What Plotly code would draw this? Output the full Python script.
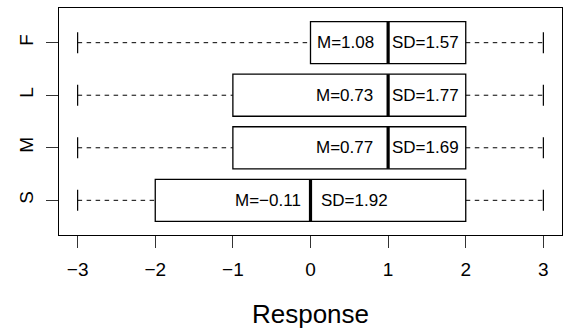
import plotly.graph_objects as go

# ---- data ----
groups = ["S", "M", "L", "F"]
lower = [-3, -3, -3, -3]
q1 = [-2, -1, -1, 0]
medians = [0, 1, 1, 1]
q3 = [2, 2, 2, 2]
upper = [3, 3, 3, 3]
means = [-0.11, 0.77, 0.73, 1.08]
sds = [1.92, 1.69, 1.77, 1.57]
x_ticks = [-3, -2, -1, 0, 1, 2, 3]

# ---- layout parameters ----
FONT = "Liberation Sans, Arial, Helvetica, sans-serif"
BOXHALF = 0.4
CAPHALF = 0.2
m_shift = [-8, -13, -13, -12]
sd_shift = [8, 2, 2, 2]


def fmt(v):
    s = f"{v:.2f}"
    return s.replace("-", "\u2212")


fig = go.Figure()
shapes = []
annotations = []

for i, g in enumerate(groups):
    pos = i + 1
    # dashed whiskers
    fig.add_trace(go.Scatter(
        x=[lower[i], q1[i], None, q3[i], upper[i]],
        y=[pos, pos, None, pos, pos],
        mode="lines", line=dict(color="black", width=1, dash="4.5px,4.5px"),
        hoverinfo="skip", showlegend=False))
    # staples
    fig.add_trace(go.Scatter(
        x=[lower[i], lower[i], None, upper[i], upper[i]],
        y=[pos - CAPHALF, pos + CAPHALF, None, pos - CAPHALF, pos + CAPHALF],
        mode="lines", line=dict(color="black", width=1.2),
        hoverinfo="skip", showlegend=False))
    # box
    shapes.append(dict(type="rect", xref="x", yref="y",
                       x0=q1[i], x1=q3[i], y0=pos - BOXHALF, y1=pos + BOXHALF,
                       line=dict(color="black", width=1.3), fillcolor="white",
                       layer="above"))
    # median
    shapes.append(dict(type="line", xref="x", yref="y",
                       x0=medians[i], x1=medians[i],
                       y0=pos - BOXHALF, y1=pos + BOXHALF,
                       line=dict(color="black", width=3.2), layer="above"))
    annotations.append(dict(x=medians[i], y=pos, xref="x", yref="y",
                            text="M=" + fmt(means[i]), showarrow=False,
                            xanchor="right", yanchor="middle", xshift=m_shift[i],
                            font=dict(family=FONT, size=17, color="black")))
    annotations.append(dict(x=medians[i], y=pos, xref="x", yref="y",
                            text="SD=" + fmt(sds[i]), showarrow=False,
                            xanchor="left", yanchor="middle", xshift=sd_shift[i],
                            font=dict(family=FONT, size=17, color="black")))

fig.update_layout(
    width=568, height=329,
    margin=dict(l=59, r=6, t=8, b=94, pad=0),
    paper_bgcolor="white", plot_bgcolor="white",
    shapes=shapes, annotations=annotations,
    font=dict(family=FONT, color="black"),
    xaxis=dict(range=[-3.24, 3.24], tickvals=x_ticks,
               ticktext=[fmt(v).replace(".00", "") for v in x_ticks],
               automargin=False, ticklabelstandoff=5,
               showline=True, mirror=True, linecolor="black", linewidth=1.2,
               ticks="outside", ticklen=12, tickwidth=1.2, tickcolor="#333",
               showgrid=False, zeroline=False,
               tickfont=dict(family=FONT, size=19, color="black"),
               title=dict(text="Response", font=dict(family=FONT, size=26, color="black"),
                          standoff=30)),
    yaxis=dict(range=[0.34, 4.66], tickvals=[1, 2, 3, 4], ticktext=groups,
               tickangle=-90, automargin=False, ticklabelstandoff=5,
               showline=True, mirror=True, linecolor="black", linewidth=1.2,
               ticks="outside", ticklen=12, tickwidth=1.2, tickcolor="#333",
               showgrid=False, zeroline=False,
               tickfont=dict(family=FONT, size=19, color="black")),
)

fig.write_html("out.html", config={"displayModeBar": False},
               post_script="document.body.style.margin='0';document.body.style.padding='0';")
